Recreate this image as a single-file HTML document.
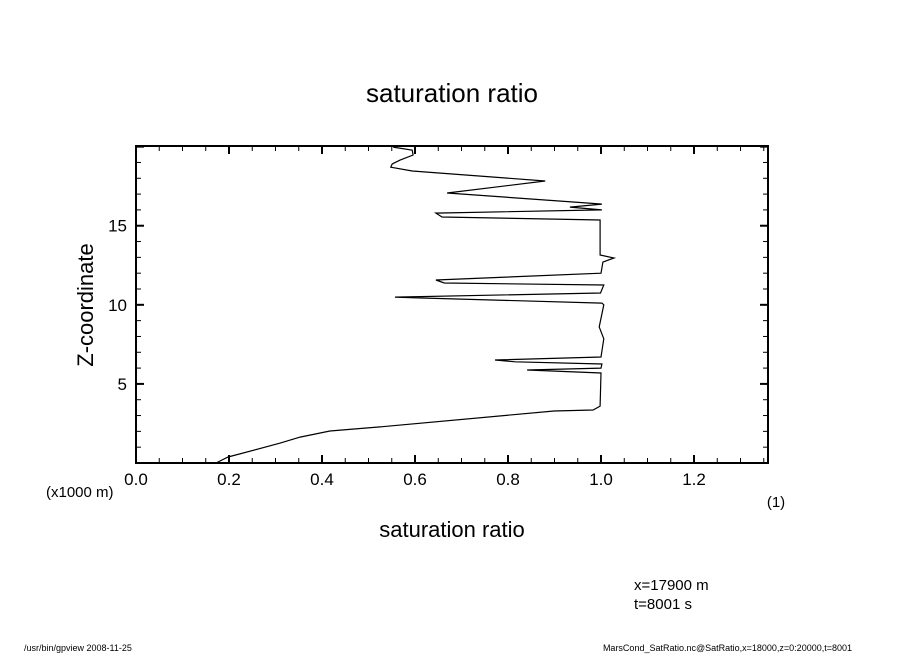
<!DOCTYPE html>
<html><head><meta charset="utf-8"><style>
html,body{margin:0;padding:0;background:#fff;}
svg{display:block;font-family:"Liberation Sans",sans-serif;}
</style></head><body>
<svg id="chart" width="904" height="654" viewBox="0 0 904 654" xmlns="http://www.w3.org/2000/svg">
<rect width="904" height="654" fill="#fff"/>
<text x="452" y="102" font-size="26" text-anchor="middle">saturation ratio</text>
<g id="axes"></g>
<path id="profile" fill="none" stroke="#000" stroke-width="1.2"/>
<rect x="136" y="146" width="632" height="317" fill="none" stroke="#000" stroke-width="2"/>
<text transform="translate(93,305) rotate(-90)" font-size="22" text-anchor="middle">Z-coordinate</text>
<text x="46" y="497" font-size="15">(x1000 m)</text>
<text x="776" y="507" font-size="15" text-anchor="middle">(1)</text>
<text x="452" y="537" font-size="22" text-anchor="middle">saturation ratio</text>
<text x="634" y="590" font-size="15">x=17900 m</text>
<text x="634" y="609" font-size="15">t=8001 s</text>
<text x="24" y="651" font-size="9">/usr/bin/gpview  2008-11-25</text>
<text x="852" y="651" font-size="9" text-anchor="end">MarsCond_SatRatio.nc@SatRatio,x=18000,z=0:20000,t=8001</text>
</svg>
<script>
const xTickValues=[0,0.2,0.4,0.6,0.8,1.0,1.2];
const xTickLabels=["0.0","0.2","0.4","0.6","0.8","1.0","1.2"];
const yTickValues=[5,10,15];
const yTickLabels=["5","10","15"];
const satRatio=[0.553,0.594,0.596,0.568,0.551,0.548,0.594,0.880,0.669,0.974,1.002,0.933,1.002,0.645,0.658,0.998,0.998,1.028,1.004,1.000,0.645,0.663,1.006,0.999,0.557,0.615,1.002,1.006,0.996,1.006,1.000,0.772,0.815,1.002,1.000,0.841,1.000,0.998,0.983,0.899,0.525,0.417,0.353,0.310,0.198,0.172];
const zKm=[19.97,19.78,19.47,19.15,18.9,18.7,18.46,17.83,17.07,16.43,16.37,16.18,16.0,15.8,15.55,15.36,13.15,12.96,12.7,12.0,11.57,11.38,11.25,10.75,10.49,10.43,10.11,10.0,8.6,7.85,6.7,6.51,6.4,6.26,6.0,5.88,5.69,3.6,3.35,3.29,2.28,2.02,1.64,1.26,0.38,0.0];
const X0=136,X1=768,Y0=463,Y1=146,XMAX=1.3591,YMAX=20.04;
const sx=v=>X0+v/XMAX*(X1-X0);
const sy=z=>Y0-z/YMAX*(Y0-Y1);
const NS="http://www.w3.org/2000/svg";
const ax=document.getElementById('axes');
function ln(x1,y1,x2,y2,w,name){const l=document.createElementNS(NS,'line');
l.setAttribute('x1',x1);l.setAttribute('y1',y1);l.setAttribute('x2',x2);l.setAttribute('y2',y2);
l.setAttribute('stroke','#000');l.setAttribute('stroke-width',w);


ax.appendChild(l);}
function tx(x,y,s,anchor,name){const t=document.createElementNS(NS,'text');
t.setAttribute('x',x);t.setAttribute('y',y);t.setAttribute('font-size','17');t.setAttribute('text-anchor',anchor);t.textContent=s;


ax.appendChild(t);}
for(let i=0;i*0.05<=XMAX;i++){const v=i*0.05,x=sx(v),maj=i%4===0,len=maj?8:5;
ln(x,Y0,x,Y0-len,maj?2:1,'x-tick');ln(x,Y1,x,Y1+len,maj?2:1,'x-tick-top');}
for(let i=0;i<=YMAX;i++){const y=sy(i),maj=i%5===0,len=maj?8:5;
ln(X0,y,X0+len,y,maj?2:1,'y-tick');ln(X1,y,X1-len,y,maj?2:1,'y-tick-right');}
xTickValues.forEach((v,i)=>tx(sx(v),485,xTickLabels[i],'middle','x-tick-label'));
yTickValues.forEach((v,i)=>tx(127,sy(v)+6,yTickLabels[i],'end','y-tick-label'));
document.getElementById('profile').setAttribute('d',satRatio.map((v,i)=>(i?'L':'M')+sx(v).toFixed(1)+','+sy(zKm[i]).toFixed(1)).join(''));
</script>
</body></html>
